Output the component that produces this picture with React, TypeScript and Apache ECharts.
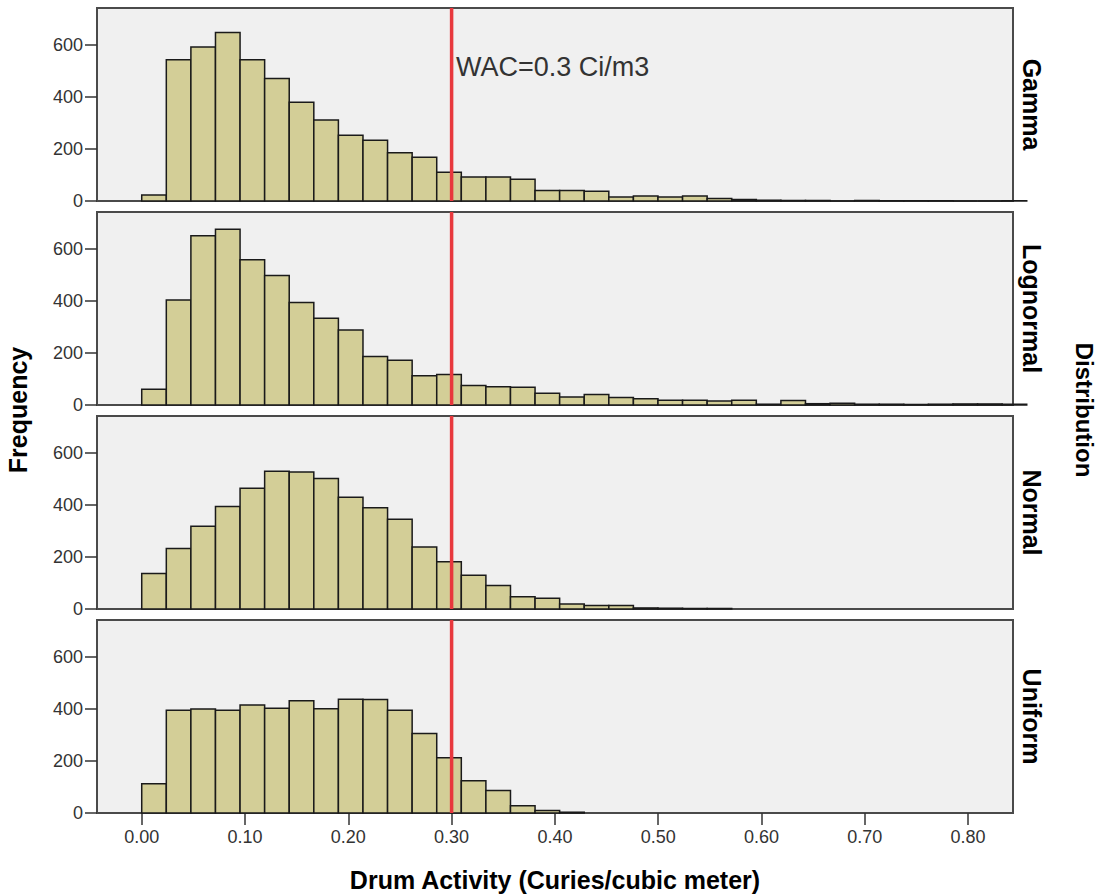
import React, { useEffect, useRef } from "react";
import * as echarts from "echarts";

// ---- data ----
const BIN_WIDTH = 0.0238;
const panelNames = ["Gamma", "Lognormal", "Normal", "Uniform"];
const gammaCounts = [23, 542, 590, 646, 542, 470, 379, 311, 252, 233, 185, 168, 110, 92, 92, 83, 40, 40, 37, 15, 19, 15, 19, 10, 6, 3, 2, 2, 0, 2, 1, 1, 1, 0, 0, 1];
const lognormalCounts = [60, 403, 649, 674, 557, 497, 393, 333, 288, 186, 172, 112, 117, 75, 70, 68, 45, 31, 40, 29, 24, 18, 18, 15, 18, 3, 17, 5, 7, 3, 3, 2, 3, 4, 4, 3];
const normalCounts = [136, 232, 317, 393, 463, 528, 525, 500, 428, 388, 344, 238, 181, 129, 90, 47, 41, 19, 13, 13, 4, 3, 2, 2];
const uniformCounts = [112, 394, 399, 394, 414, 402, 430, 400, 436, 435, 394, 305, 212, 124, 86, 28, 10, 3];
const xTicks = [0, 0.1, 0.2, 0.3, 0.4, 0.5, 0.6, 0.7, 0.8];
const yTicks = [0, 200, 400, 600];
const wacValue = 0.3;
const wacLabel = "WAC=0.3 Ci/m3";
const xTitle = "Drum Activity (Curies/cubic meter)";
const yTitle = "Frequency";
const facetTitle = "Distribution";

const allCounts = [gammaCounts, lognormalCounts, normalCounts, uniformCounts];

const FONT = '"Liberation Sans", Arial, sans-serif';
const X_MIN = -0.0433;
const X_MAX = 0.8435;
const Y_MAX = 740;
const GRID_LEFT = 97;
const GRID_WIDTH = 916;
const GRID_TOPS = [8, 212, 416, 620];
const GRID_HEIGHT = 193;

export default function App() {
  const ref = useRef<HTMLDivElement>(null);

  useEffect(() => {
    if (!ref.current) return;
    const chart = echarts.init(ref.current, null, { renderer: "svg" });

    const grids = GRID_TOPS.map((top) => ({
      left: GRID_LEFT,
      top,
      width: GRID_WIDTH,
      height: GRID_HEIGHT,
      show: true,
      backgroundColor: "#f0f0f0",
      borderColor: "#4a4a4a",
      borderWidth: 2,
      containLabel: false,
    }));

    const xAxes = GRID_TOPS.map((_, i) => ({
      type: "value",
      gridIndex: i,
      min: X_MIN,
      max: X_MAX,
      axisLine: { show: false, onZero: false },
      splitLine: { show: false },
      axisTick: {
        show: i === 3,
        customValues: xTicks,
        length: 12,
        lineStyle: { color: "#333", width: 1.5 },
      },
      axisLabel: {
        show: i === 3,
        customValues: xTicks,
        formatter: (v: number) => v.toFixed(2),
        fontSize: 18,
        fontFamily: FONT,
        color: "#333",
        margin: 15,
      },
    }));

    const yAxes = GRID_TOPS.map((_, i) => ({
      type: "value",
      gridIndex: i,
      min: 0,
      max: Y_MAX,
      axisLine: { show: false, onZero: false },
      splitLine: { show: false },
      axisTick: {
        show: true,
        customValues: yTicks,
        length: 12,
        lineStyle: { color: "#333", width: 1.5 },
      },
      axisLabel: {
        customValues: yTicks,
        fontSize: 18,
        fontFamily: FONT,
        color: "#333",
        margin: 14,
      },
    }));

    const series: any[] = [];
    allCounts.forEach((counts, i) => {
      series.push({
        type: "custom",
        xAxisIndex: i,
        yAxisIndex: i,
        z: 2,
        silent: true,
        encode: { x: [0, 1], y: 2 },
        data: counts.map((c, k) => [k * BIN_WIDTH, (k + 1) * BIN_WIDTH, c]),
        renderItem: (params: any, api: any) => {
          const p0 = api.coord([api.value(0), api.value(2)]);
          const p1 = api.coord([api.value(1), 0]);
          return {
            type: "rect",
            shape: {
              x: p0[0],
              y: p0[1],
              width: p1[0] - p0[0],
              height: p1[1] - p0[1],
            },
            style: {
              fill: "#d3ce97",
              stroke: "#1a1a1a",
              lineWidth: 1.5,
            },
          };
        },
      });
      series.push({
        type: "line",
        xAxisIndex: i,
        yAxisIndex: i,
        z: 5,
        silent: true,
        symbol: "none",
        data: [
          [wacValue, 0],
          [wacValue, Y_MAX],
        ],
        lineStyle: { color: "#e8383d", width: 3.5 },
      });
    });

    const graphic: any[] = [];
    panelNames.forEach((name, i) => {
      graphic.push({
        type: "text",
        x: 1032,
        y: GRID_TOPS[i] + GRID_HEIGHT / 2,
        rotation: -Math.PI / 2,
        style: {
          text: name,
          font: `bold 25px ${FONT}`,
          fill: "#000",
          align: "center",
          verticalAlign: "middle",
        },
      });
    });
    graphic.push({
      type: "text",
      x: 18,
      y: 410,
      rotation: Math.PI / 2,
      style: {
        text: yTitle,
        font: `bold 25px ${FONT}`,
        fill: "#000",
        align: "center",
        verticalAlign: "middle",
      },
    });
    graphic.push({
      type: "text",
      x: 1084,
      y: 410,
      rotation: -Math.PI / 2,
      style: {
        text: facetTitle,
        font: `bold 24px ${FONT}`,
        fill: "#000",
        align: "center",
        verticalAlign: "middle",
      },
    });
    graphic.push({
      type: "text",
      x: 555,
      y: 880,
      style: {
        text: xTitle,
        font: `bold 25px ${FONT}`,
        fill: "#000",
        align: "center",
        verticalAlign: "middle",
      },
    });
    graphic.push({
      type: "text",
      x: 456,
      y: 67,
      z: 10,
      style: {
        text: wacLabel,
        font: `27px ${FONT}`,
        fill: "#333",
        align: "left",
        verticalAlign: "middle",
      },
    });

    chart.setOption({
      animation: false,
      backgroundColor: "#ffffff",
      grid: grids,
      xAxis: xAxes,
      yAxis: yAxes,
      series,
      graphic,
    });

    return () => chart.dispose();
  }, []);

  return (
    <div
      ref={ref}
      style={{ position: "absolute", left: 0, top: 0, width: 1099, height: 896 }}
    />
  );
}
